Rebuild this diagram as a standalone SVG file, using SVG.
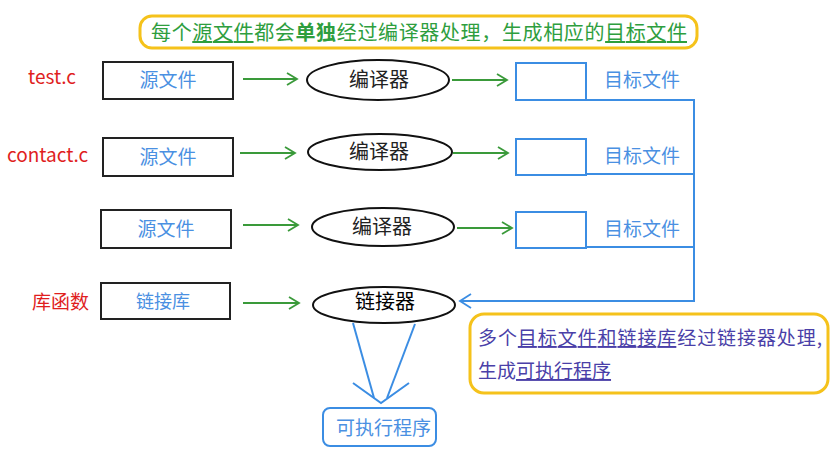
<svg xmlns="http://www.w3.org/2000/svg" width="837" height="463" viewBox="0 0 837 463">
<defs>
<style>
.cjk{font-family:"Noto Sans CJK SC","Noto Sans",sans-serif}
.src{fill:#fff;stroke:#222;stroke-width:2}
.obj{fill:#fff;stroke:#3b8de3;stroke-width:2}
.ell{fill:#fff;stroke:#111;stroke-width:2}
.blue{fill:#4a90e2}
.red{fill:#e01e1e}
.g{stroke:#3a9a3a;stroke-width:2;fill:none}
.b{stroke:#3b8de3;stroke-width:2;fill:none}
.note{fill:#fff;stroke:#f5c21b;stroke-width:3}
.u{text-decoration:underline}
</style>
<marker id="ga" markerWidth="14" markerHeight="14" refX="12" refY="7" orient="auto" markerUnits="userSpaceOnUse">
<path d="M2,1 L12,7 L2,13" fill="none" stroke="#3a9a3a" stroke-width="1.8"/>
</marker>
<marker id="ba" markerWidth="18" markerHeight="18" refX="13" refY="9" orient="auto" markerUnits="userSpaceOnUse">
<path d="M2,2 L13,9 L2,16" fill="none" stroke="#3b8de3" stroke-width="1.8"/>
</marker>
</defs>

<g id="banner">
<rect class="note" x="140" y="16" width="557" height="32" rx="12"/>
<text class="cjk" x="151" y="40" font-size="20" fill="#2e9e3e" textLength="536">每个<tspan class="u">源文件</tspan>都会<tspan font-weight="bold">单独</tspan>经过编译器处理，生成相应的<tspan class="u">目标文件</tspan></text>
</g>

<g id="labels" class="cjk">
<text class="red" x="28" y="84" font-size="19">test.c</text>
<text class="red" x="7" y="162" font-size="19">contact.c</text>
<text class="red" x="32" y="309" font-size="19">库函数</text>
</g>

<g id="src1"><rect class="src" x="103" y="62" width="130" height="37"/><text class="cjk blue" x="168" y="87" font-size="19" text-anchor="middle">源文件</text></g>
<g id="src2"><rect class="src" x="103" y="138" width="130" height="38"/><text class="cjk blue" x="168" y="164" font-size="19" text-anchor="middle">源文件</text></g>
<g id="src3"><rect class="src" x="101" y="210" width="130" height="38"/><text class="cjk blue" x="166" y="236" font-size="19" text-anchor="middle">源文件</text></g>
<g id="lib"><rect class="src" x="101" y="283" width="129" height="36"/><text class="cjk blue" x="163" y="308" font-size="18" text-anchor="middle">链接库</text></g>

<g id="cc1"><ellipse class="ell" cx="378" cy="80" rx="71" ry="20"/><text class="cjk" x="379" y="87" font-size="20" fill="#222" text-anchor="middle">编译器</text></g>
<g id="cc2"><ellipse class="ell" cx="380" cy="152" rx="72" ry="18"/><text class="cjk" x="379" y="159" font-size="20" fill="#222" text-anchor="middle">编译器</text></g>
<g id="cc3"><ellipse class="ell" cx="383" cy="227" rx="71" ry="19"/><text class="cjk" x="382" y="234" font-size="20" fill="#222" text-anchor="middle">编译器</text></g>
<g id="linker"><ellipse class="ell" cx="384" cy="305" rx="71" ry="18"/><text class="cjk" x="385" y="309" font-size="20" fill="#000" text-anchor="middle">链接器</text></g>

<g id="obj1"><rect class="obj" x="516" y="63" width="70" height="37"/><text class="cjk blue" x="604" y="87" font-size="19">目标文件</text></g>
<g id="obj2"><rect class="obj" x="516" y="139" width="70" height="36"/><text class="cjk blue" x="604" y="163" font-size="19">目标文件</text></g>
<g id="obj3"><rect class="obj" x="516" y="212" width="70" height="36"/><text class="cjk blue" x="604" y="236" font-size="19">目标文件</text></g>

<g id="exe"><rect class="obj" x="323" y="408" width="113" height="38" rx="7"/><text class="cjk blue" x="336" y="435" font-size="19">可执行程序</text></g>

<g id="note">
<rect class="note" x="470" y="314" width="358" height="79" rx="14"/>
<text class="cjk" x="478" y="345" font-size="19" fill="#4a3fa8" textLength="344">多个<tspan class="u">目标文件和链接库</tspan>经过链接器处理,</text>
<text class="cjk" x="478" y="378" font-size="19" fill="#4a3fa8">生成<tspan class="u">可执行程序</tspan></text>
</g>

<g id="connectors">
<line class="g" x1="243" y1="79" x2="297" y2="79" marker-end="url(#ga)"/>
<line class="g" x1="240" y1="153" x2="295" y2="153" marker-end="url(#ga)"/>
<line class="g" x1="243" y1="225" x2="298" y2="225" marker-end="url(#ga)"/>
<line class="g" x1="243" y1="303" x2="299" y2="303" marker-end="url(#ga)"/>
<line class="g" x1="452" y1="80" x2="507" y2="80" marker-end="url(#ga)"/>
<line class="g" x1="453" y1="153" x2="508" y2="153" marker-end="url(#ga)"/>
<line class="g" x1="457" y1="228" x2="512" y2="228" marker-end="url(#ga)"/>
<polyline class="b" points="586,100 694,100 694,301 460,301" marker-end="url(#ba)"/>
<line class="b" x1="586" y1="174" x2="694" y2="174"/>
<line class="b" x1="586" y1="247" x2="694" y2="247"/>
<line class="b" x1="353" y1="323" x2="374" y2="398"/>
<line class="b" x1="415" y1="324" x2="387" y2="398"/>
<polyline class="b" points="353,383 381,403 409,383"/>
</g>
</svg>
